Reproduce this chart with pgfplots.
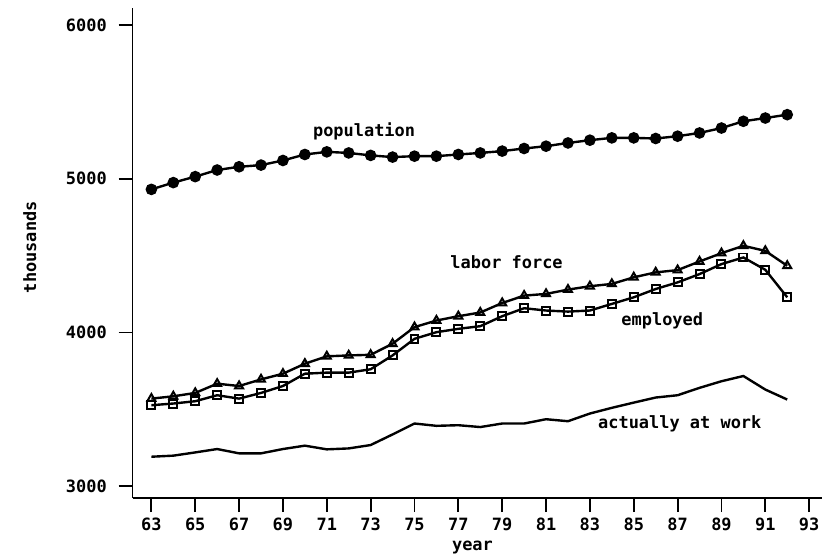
\documentclass[border=0pt]{standalone}
\usepackage{fontspec}
\setmainfont{DejaVu Sans Mono}
\usepackage{pgfplots}
\pgfplotsset{compat=1.18}
\begin{document}
\fontsize{17}{20}\selectfont\bfseries
\begin{tikzpicture}
\begin{axis}[
  scale only axis,
  width=692pt, height=492pt,
  xmin=62.14, xmax=93.59,
  ymin=2922, ymax=6111,
  axis x line=bottom, axis y line=left,
  axis line style={-, line width=1.8pt},
  xtick={63,65,...,93},
  xticklabels={63,65,67,69,71,73,75,77,79,81,83,85,87,89,91,93},
  ytick={3000,4000,5000,6000},
  tick align=outside,
  major tick length=14pt,
  tick style={line width=1.8pt, black},
  yticklabel style={xshift=-6pt},
  /pgf/number format/assume math mode=true,
  /pgf/number format/1000 sep={},
  xlabel={year}, ylabel={thousands},
  xlabel style={at={(axis description cs:0.493,0)}, anchor=center, yshift=-49pt},
  ylabel style={at={(axis description cs:0,0.512)}, anchor=center, yshift=103pt},
  clip=false,
]
% population
\addplot[black, line width=2.4pt, mark=*, mark size=4.6pt] coordinates {
(63,4931)(64,4975)(65,5014)(66,5057)(67,5078)(68,5089)(69,5119)(70,5158)
(71,5175)(72,5168)(73,5152)(74,5141)(75,5147)(76,5147)(77,5158)(78,5168)
(79,5180)(80,5197)(81,5212)(82,5233)(83,5251)(84,5266)(85,5266)(86,5262)
(87,5277)(88,5298)(89,5330)(90,5374)(91,5395)(92,5417)};
% labor force
\addplot[black, line width=2.4pt, mark=triangle, mark size=4.6pt, mark options={fill=white, line width=2pt}] coordinates {
(63,3570)(64,3585)(65,3607)(66,3667)(67,3652)(68,3695)(69,3732)(70,3797)
(71,3845)(72,3851)(73,3855)(74,3927)(75,4035)(76,4078)(77,4106)(78,4130)
(79,4192)(80,4240)(81,4251)(82,4279)(83,4301)(84,4316)(85,4359)(86,4391)
(87,4406)(88,4462)(89,4516)(90,4564)(91,4531)(92,4434)};
% employed
\addplot[black, line width=2.4pt, mark=square, mark size=4pt, mark options={fill=white, line width=2pt}] coordinates {
(63,3527)(64,3538)(65,3553)(66,3592)(67,3570)(68,3607)(69,3652)(70,3732)
(71,3739)(72,3739)(73,3761)(74,3851)(75,3959)(76,4002)(77,4024)(78,4041)
(79,4106)(80,4158)(81,4143)(82,4136)(83,4143)(84,4186)(85,4229)(86,4283)
(87,4326)(88,4380)(89,4445)(90,4488)(91,4408)(92,4229)};
% actually at work
\addplot[black, line width=2.4pt, no markers] coordinates {
(63,3192)(64,3199)(65,3220)(66,3242)(67,3214)(68,3214)(69,3242)(70,3264)
(71,3240)(72,3246)(73,3268)(74,3337)(75,3408)(76,3393)(77,3397)(78,3385)
(79,3408)(80,3408)(81,3436)(82,3423)(83,3473)(84,3510)(85,3544)(86,3577)
(87,3592)(88,3640)(89,3683)(90,3717)(91,3629)(92,3564)};
\node at (axis cs:72.7,5307) {population};
\node at (axis cs:79.2,4458) {labor force};
\node at (axis cs:86.3,4076) {employed};
\node at (axis cs:87.1,3408) {actually at work};
\end{axis}
\path (current axis.south west) ++(-133pt,-59pt);
\path (current axis.north east) ++(0pt,8pt);
\end{tikzpicture}
\end{document}
